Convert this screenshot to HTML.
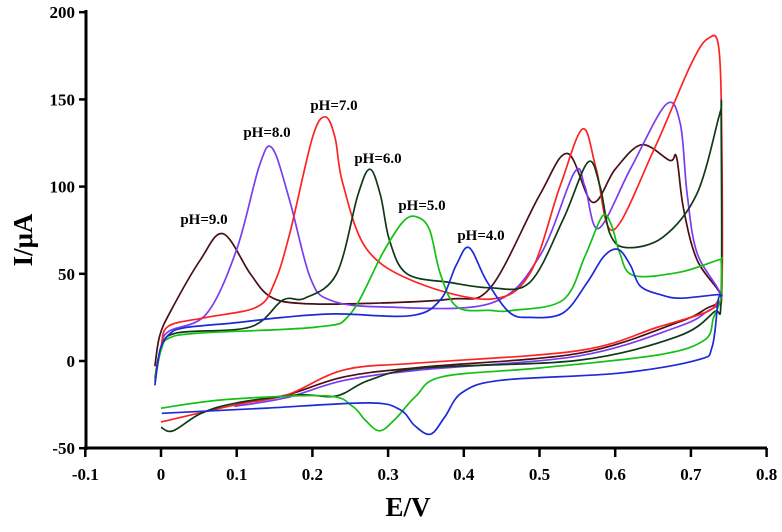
<!DOCTYPE html>
<html><head><meta charset="utf-8"><style>
body{margin:0;background:#fff;}
svg{display:block;font-family:"Liberation Serif",serif;font-weight:bold;}
</style></head><body>
<svg id="chart" width="782" height="532" viewBox="0 0 782 532" xmlns="http://www.w3.org/2000/svg">
<g id="axes"></g>
<g id="series"></g>
<g id="labels"></g>
<text transform="translate(32,240) rotate(-90)" text-anchor="middle" font-size="27">I/μA</text>
<text x="408" y="516" text-anchor="middle" font-size="27">E/V</text>
</svg>
<script>
const xTicks=[-0.1,0,0.1,0.2,0.3,0.4,0.5,0.6,0.7,0.8];
const xTickLabels=["-0.1","0","0.1","0.2","0.3","0.4","0.5","0.6","0.7","0.8"];
const yTicks=[-50,0,50,100,150,200];
const yTickLabels=["-50","0","50","100","150","200"];

const ph9E=[-0.008,-0.002,0.012,0.052,0.082,0.118,0.144,0.184,0.272,0.382,0.435,0.5,0.537,0.57,0.6,0.635,0.672,0.681,0.69,0.708,0.74,0.72,0.682,0.553,0.346,0.243,0.166,0.1];
const ph9I=[-3,14,28,58,73,50,37,33,33,35.5,42,95,119,91,110,124,115,117,88,58,37,30,22,4.5,-3.5,-9,-19.5,-24];
const ph8E=[-0.008,0,0.01,0.06,0.1,0.13,0.147,0.17,0.197,0.223,0.293,0.435,0.5,0.546,0.56,0.578,0.62,0.667,0.686,0.695,0.708,0.74,0.72,0.682,0.553,0.346,0.243,0.166,0.097];
const ph8I=[-10,8,17,27,64,112,122,92,48,35,31,33,60,108,100,76,110,147,136,96,62,37,28,19.5,3,-5,-11,-21,-26];
const ph7E=[-0.008,0,0.01,0.06,0.127,0.15,0.17,0.2,0.217,0.23,0.24,0.272,0.338,0.435,0.487,0.527,0.557,0.575,0.597,0.65,0.70,0.723,0.737,0.741,0.741,0.735,0.72,0.657,0.553,0.346,0.243,0.166,0.1,0];
const ph7I=[-12,8,20,25,31,45,73,128,140,128,102,64,45,35.5,50,100,133,110,75,120,170,185,179,120,40,34,28,19.5,6,-1,-5,-19.5,-25,-35];
const ph6E=[-0.008,0,0.02,0.118,0.161,0.19,0.232,0.26,0.276,0.29,0.302,0.325,0.382,0.435,0.487,0.531,0.564,0.58,0.593,0.615,0.663,0.708,0.737,0.74,0.74,0.74,0.73,0.682,0.553,0.346,0.275,0.232,0.181,0.1,0.053,0.016,0];
const ph6I=[-10,7,16,19.5,35,36,50,95,110,95,69,50,45,42,45,81,114,100,73,65,71,96,140,145,140,37,28,14,0.5,-4,-11,-20,-19.5,-24,-30,-40,-38];
const ph5E=[-0.008,0,0.01,0.05,0.206,0.25,0.293,0.32,0.338,0.355,0.369,0.391,0.435,0.465,0.531,0.56,0.583,0.595,0.606,0.624,0.686,0.737,0.74,0.74,0.73,0.718,0.657,0.5,0.372,0.337,0.31,0.289,0.27,0.253,0.218,0.088,0];
const ph5I=[-10,6,13,16,19.5,27,62,80,82.6,75,50,31,29,29,35,60,83,78,62,49,51,58,57,37,25,12,3.5,-4,-9,-20,-33,-40,-34,-26,-20,-22,-27];
const ph4E=[-0.008,-0.004,0,0.01,0.03,0.1,0.161,0.23,0.33,0.369,0.39,0.407,0.43,0.46,0.487,0.531,0.563,0.585,0.604,0.62,0.633,0.66,0.686,0.735,0.74,0.736,0.728,0.708,0.605,0.45,0.398,0.375,0.356,0.335,0.316,0.275,0.14,0.001];
const ph4I=[-14,0,8,15,19,22,25,27,26,35,55,65,46,28,25,27.5,45,60,64,55,43,38,36,38,37,35,8,0.5,-7,-11,-18,-32,-42,-37,-28,-24,-27,-30];

const seriesNames=["ph-9","ph-8","ph-7","ph-6","ph-5","ph-4"];
const seriesLabels=["pH=9.0","pH=8.0","pH=7.0","pH=6.0","pH=5.0","pH=4.0"];
const seriesE=[ph9E,ph8E,ph7E,ph6E,ph5E,ph4E];
const seriesI=[ph9I,ph8I,ph7I,ph6I,ph5I,ph4I];
const colors=["#4a1016","#7a3cf0","#ff2222","#0f3a16","#14c014","#1c2ad8"];
const labelPos=[[204,224],[267,137],[334,110],[378,163],[422,210],[481,240]];

const X=v=>161+v*757;
const Y=v=>361-v*1.744;
const NS="http://www.w3.org/2000/svg";
function mk(tag,attrs,parent){const e=document.createElementNS(NS,tag);for(const k in attrs)e.setAttribute(k,attrs[k]);parent.appendChild(e);return e;}

const ax=document.getElementById('axes');
let l=mk('line',{x1:86,y1:10,x2:86,y2:450,stroke:'#000','stroke-width':3},ax);


l=mk('line',{x1:84,y1:448,x2:767,y2:448,stroke:'#000','stroke-width':3},ax);


xTicks.forEach((v,i)=>{
  const t=mk('line',{x1:X(v),y1:448,x2:X(v),y2:457,stroke:'#000','stroke-width':2.5},ax);
  
  
  const tx=mk('text',{x:X(v),y:480,'text-anchor':'middle','font-size':17},ax);
  tx.textContent=xTickLabels[i];
  
  
});
yTicks.forEach((v,i)=>{
  const t=mk('line',{x1:79,y1:Y(v),x2:86,y2:Y(v),stroke:'#000','stroke-width':2.5},ax);
  
  
  const tx=mk('text',{x:75,y:Y(v)+6,'text-anchor':'end','font-size':17},ax);
  tx.textContent=yTickLabels[i];
  
  
});

function pathFor(E,I){
  const p=E.map((e,i)=>[X(e),Y(I[i])]);
  let d='M'+p[0][0].toFixed(1)+','+p[0][1].toFixed(1);
  for(let i=0;i<p.length-1;i++){
    const p0=p[i-1]||p[i],p1=p[i],p2=p[i+1],p3=p[i+2]||p2;
    const t=0.5/3;
    const c1=[p1[0]+(p2[0]-p0[0])*t,p1[1]+(p2[1]-p0[1])*t];
    const c2=[p2[0]-(p3[0]-p1[0])*t,p2[1]-(p3[1]-p1[1])*t];
    d+='C'+c1.map(v=>v.toFixed(1)).join(',')+' '+c2.map(v=>v.toFixed(1)).join(',')+' '+p2[0].toFixed(1)+','+p2[1].toFixed(1);
  }
  return d;
}
const sg=document.getElementById('series');
const lg=document.getElementById('labels');
seriesE.forEach((E,k)=>{
  const p=mk('path',{d:pathFor(E,seriesI[k]),fill:'none',stroke:colors[k],'stroke-width':1.7,'stroke-linejoin':'round'},sg);
  
  
  const t=mk('text',{x:labelPos[k][0],y:labelPos[k][1],'text-anchor':'middle','font-size':15},lg);
  t.textContent=seriesLabels[k];
  
  
});
</script>
</body></html>
